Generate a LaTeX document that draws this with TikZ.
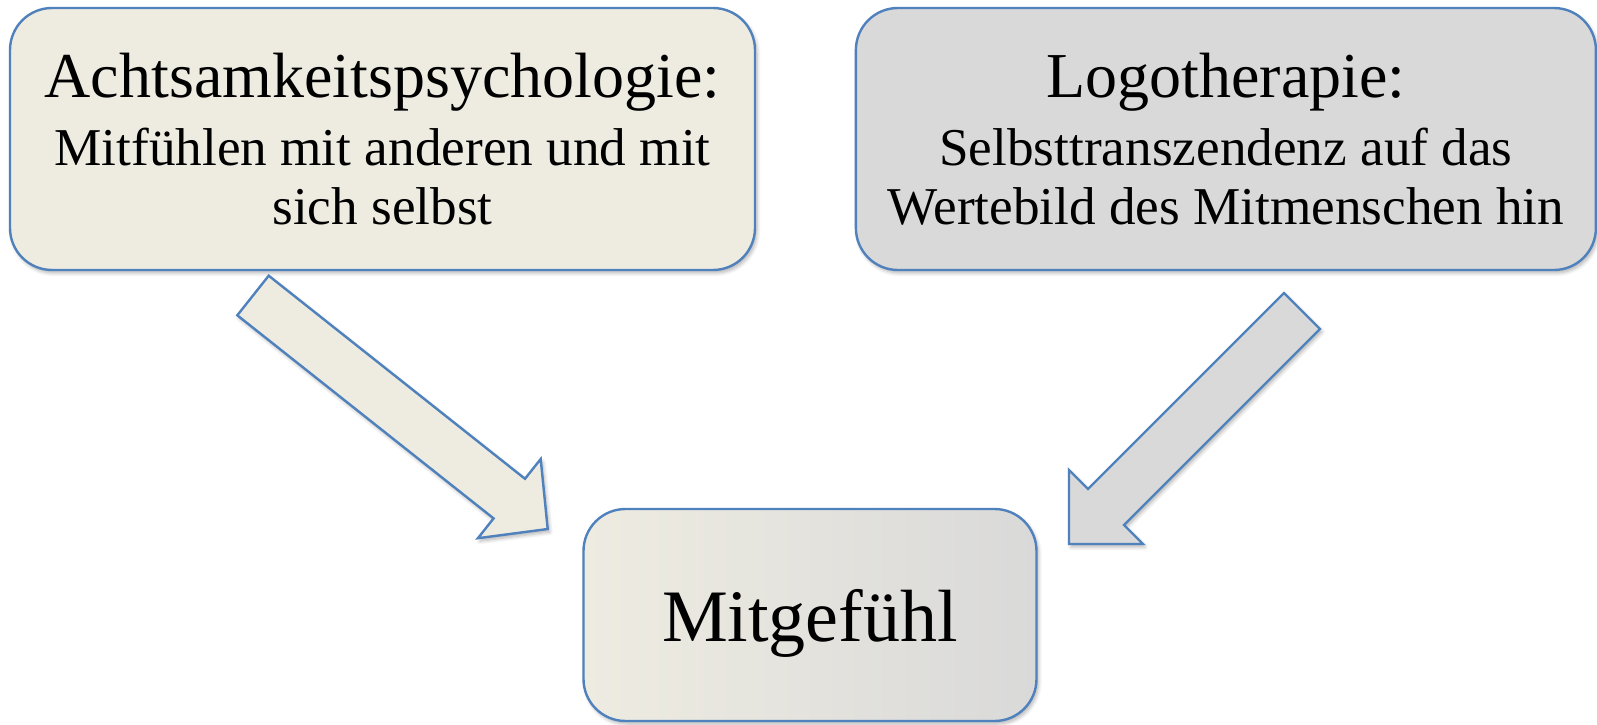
\documentclass[tikz,border=0pt]{standalone}
\usepackage{fontspec}
\setmainfont{Liberation Serif}
\usetikzlibrary{positioning,shadows.blur}

\definecolor{achtbeige}{HTML}{EEECE1}
\definecolor{logogray}{HTML}{D9D9D9}
\definecolor{rimblue}{HTML}{4F81BD}

\begin{document}
\begin{tikzpicture}[x=0.5pt, y=0.5pt, every node/.style={font=\fontsize{26.6}{29.5}\selectfont},
  softshadow/.style={blur shadow={shadow xshift=1pt, shadow yshift=-1.5pt, shadow blur steps=6, shadow opacity=30}},
  box/.style={draw=rimblue, line width=1.2pt, rounded corners=21pt, align=center, inner sep=0pt, minimum height=131pt, softshadow},
  blockarrow/.style={draw=rimblue, line width=1.2pt, line join=miter, softshadow}]
\useasboundingbox (0,0) rectangle (1597,724);
\node[box, fill=achtbeige, minimum width=372.5pt] (achtsam) at (382.5,585) {{\fontsize{32}{34}\selectfont Achtsamkeitspsychologie:}\\[4.5pt] Mitfühlen mit anderen und mit\\ sich selbst};
\node[box, fill=logogray, minimum width=370pt, right=49.25pt of achtsam] (logo) {{\fontsize{32}{34}\selectfont Logotherapie:}\\[4.5pt] Selbsttranszendenz auf das\\ Wertebild des Mitmenschen hin};
\node[box, left color=achtbeige, right color=logogray, minimum width=226.5pt, minimum height=106pt, text depth=0pt] (mitgefuehl) at (810,109) {\fontsize{37}{40}\selectfont Mitgefühl};
% block arrows
\draw[blockarrow, fill=achtbeige] (268.7,448.3) -- (525,245.2) -- (540.7,265) -- (547.7,195) -- (477.9,185.8) -- (493.6,205.6) -- (237.3,408.7) -- cycle;
\draw[blockarrow, fill=logogray] (1284,431) -- (1088,235) -- (1069,254) -- (1069,180) -- (1143,180) -- (1124,199) -- (1320,395) -- cycle;
\end{tikzpicture}
\end{document}
